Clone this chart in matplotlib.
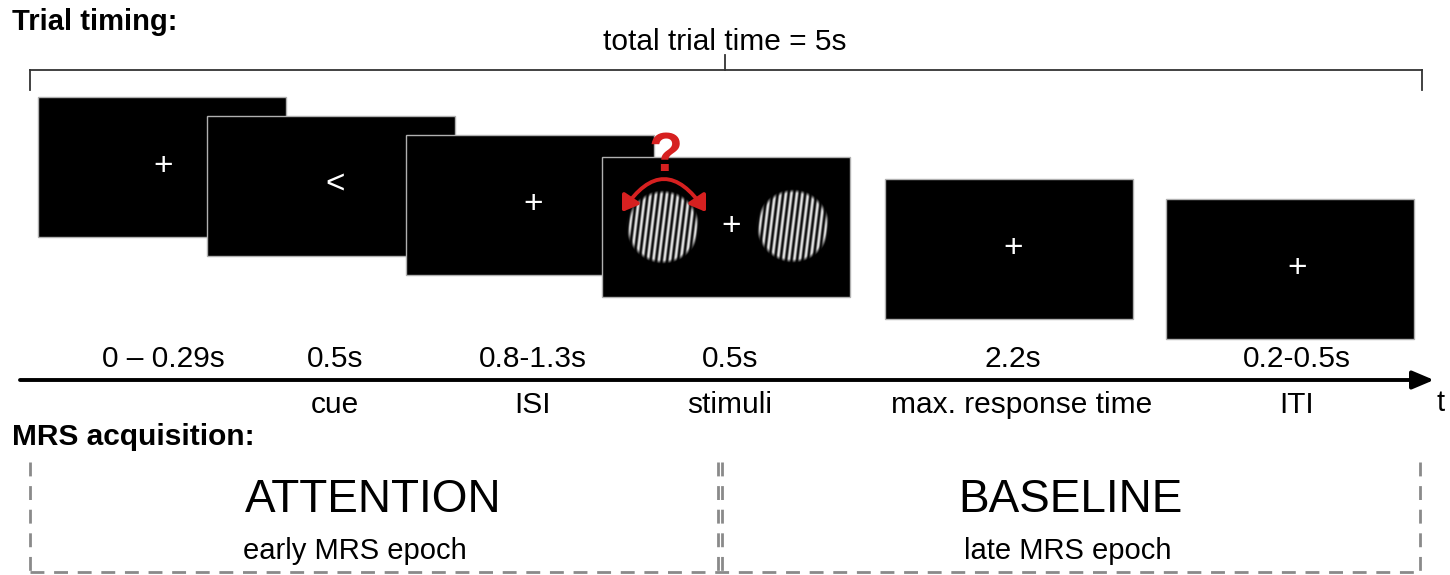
import numpy as np
import matplotlib
matplotlib.use("Agg")
import matplotlib.pyplot as plt
from matplotlib.patches import Rectangle, FancyArrowPatch

plt.rcParams['font.family'] = ['Liberation Sans', 'DejaVu Sans']

# ---- content ----
screen_symbols = ["+", "<", "+", "+", "+", "+"]
durations = ["0 – 0.29s", "0.5s", "0.8-1.3s", "0.5s", "2.2s", "0.2-0.5s"]
phases = ["", "cue", "ISI", "stimuli", "max. response time", "ITI"]
total_label = "total trial time = 5s"
epoch_titles = ["ATTENTION", "BASELINE"]
epoch_subtitles = ["early MRS epoch", "late MRS epoch"]

# ---- layout (pixel coordinates) ----
W, H = 1450, 575
fig = plt.figure(figsize=(W / 100, H / 100), dpi=100)
ax = fig.add_axes([0, 0, 1, 1])
ax.set_xlim(0, W)
ax.set_ylim(H, 0)
ax.axis('off')

screen_pos = [(38, 97), (207, 116), (406, 135), (602, 157), (885, 179), (1166, 199)]
sw, sh = 248, 140
symbol_x = [163, 335, 533, 731, 1013, 1297]
label_x = [163, 335, 533, 730, 1013, 1297]
phase_x = [163, 335, 533, 730, 1022, 1297]

for i, ((x0, y0), sym) in enumerate(zip(screen_pos, screen_symbols)):
    ax.add_patch(Rectangle((x0, y0), sw, sh, facecolor='black', edgecolor='#b0b0b0',
                           linewidth=1.0, zorder=2 + i))
    cy = y0 + sh / 2 - 1
    ax.text(symbol_x[i], cy, sym, color='white', fontsize=24, ha='center', va='center',
            zorder=2.5 + i)

# gratings on stimulus screen
def grating(cx, cy, r, zorder):
    n = 160
    g = np.linspace(-1, 1, n)
    X, Y = np.meshgrid(g, g)
    theta = np.deg2rad(7)
    u = X * np.cos(theta) + Y * np.sin(theta)
    period = 5.5 / r
    val = 0.5 + 0.5 * np.cos(2 * np.pi * u / period)
    rr = np.sqrt(X ** 2 + Y ** 2)
    alpha = np.clip((1.0 - rr) / 0.1, 0, 1)
    rgba = np.zeros((n, n, 4))
    rgba[..., 0] = val * 0.95
    rgba[..., 1] = val * 0.95
    rgba[..., 2] = val * 0.95
    rgba[..., 3] = alpha
    ax.imshow(rgba, extent=(cx - r, cx + r, cy + r, cy - r), origin='upper',
              interpolation='bilinear', zorder=zorder, aspect='auto')

grating(663, 227, 37, 6)
grating(793, 226, 37, 6)
ax.set_xlim(0, W)
ax.set_ylim(H, 0)

red = '#d62020'
arc = FancyArrowPatch((622, 212), (706, 212), connectionstyle="arc3,rad=-0.75",
                      arrowstyle="<|-|>,head_length=9,head_width=6", color=red, lw=2.8,
                      zorder=7, shrinkA=0, shrinkB=0)
ax.add_patch(arc)
ax.text(665, 157, "?", color=red, fontsize=40, fontweight='bold', ha='center',
        va='center', zorder=8)

# bracket for total trial time
bc = '#333333'
ax.plot([30, 1422], [70, 70], color=bc, lw=1.3, zorder=1)
ax.plot([30, 30], [70, 90], color=bc, lw=1.3, zorder=1)
ax.plot([1422, 1422], [70, 90], color=bc, lw=1.3, zorder=1)
ax.plot([725, 725], [55, 70], color=bc, lw=1.3, zorder=1)
ax.text(725, 42, total_label, fontsize=21.5, ha='center', va='center')

ax.text(12, 22, "Trial timing:", fontsize=21, fontweight='bold', ha='left', va='center')

# time axis
ax.annotate("", xy=(1434, 380), xytext=(20, 380),
            arrowprops=dict(arrowstyle="-|>,head_length=1.3,head_width=0.55",
                            color='black', lw=2.8, shrinkA=0, shrinkB=0))
ax.text(1437, 403, "t", fontsize=21, ha='left', va='center')

for x, d in zip(label_x, durations):
    ax.text(x, 359, d, fontsize=21.5, ha='center', va='center')
for x, p in zip(phase_x, phases):
    if p:
        ax.text(x, 405, p, fontsize=21.5, ha='center', va='center')

# MRS acquisition
ax.text(12, 437, "MRS acquisition:", fontsize=21.5, fontweight='bold', ha='left', va='center')

dc = '#8a8a8a'
dash = dict(color=dc, lw=2.0, linestyle=(0, (5, 3.5)))
ax.plot([30, 30], [462, 572], **dash)
ax.plot([718, 718], [462, 572], **dash)
ax.plot([722, 722], [462, 572], **dash)
ax.plot([1420, 1420], [462, 572], **dash)
ax.plot([30, 1420], [572, 572], **dash)

ax.text(373, 500, epoch_titles[0], fontsize=33, ha='center', va='center')
ax.text(1070, 500, epoch_titles[1], fontsize=33, ha='center', va='center')
ax.text(355, 551, epoch_subtitles[0], fontsize=21, ha='center', va='center')
ax.text(1068, 551, epoch_subtitles[1], fontsize=21, ha='center', va='center')

fig.savefig("out.png", dpi=100, facecolor='white')
